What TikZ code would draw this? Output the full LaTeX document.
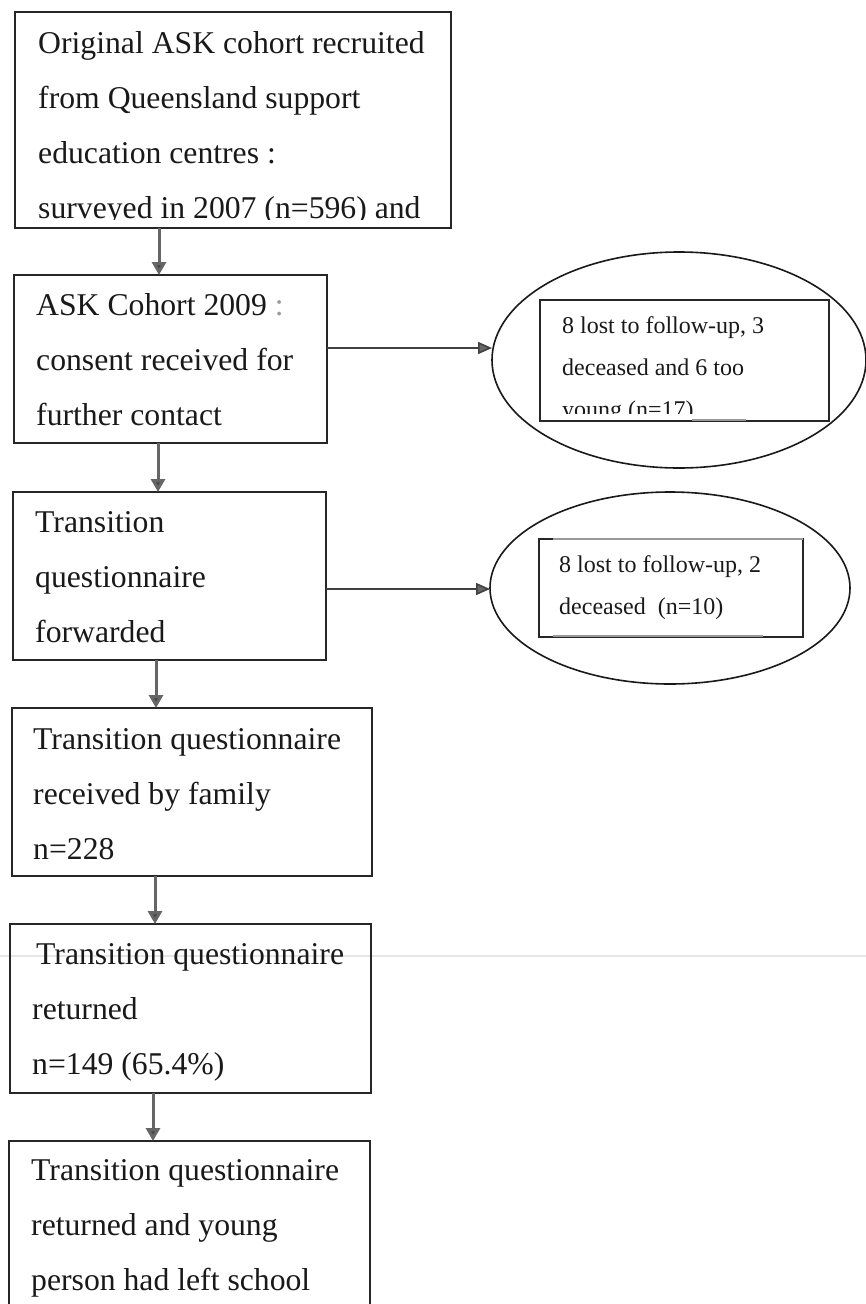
\documentclass[tikz,border=0pt]{standalone}
\usepackage{fontspec}
\setmainfont{Liberation Serif}
\usetikzlibrary{shapes.geometric,arrows.meta,calc}
\newcommand\mlines[1]{\parbox[t]{480pt}{\raggedright #1}}
\begin{document}
\begin{tikzpicture}[x=1pt,y=-1pt,
  box/.style={draw=black!85,line width=2pt,anchor=north west,inner sep=0pt,outer sep=0pt},
  oval/.style={draw=black!90,ellipse,line width=1.6pt,inner sep=0pt,outer sep=0pt},
  inbox/.style={draw=black!85,line width=1.6pt,anchor=north west,inner sep=0pt,outer sep=0pt},
  bigtxt/.style={anchor=base west,inner sep=0pt,font=\fontsize{31.7}{55}\selectfont,text=black!90},
  smalltxt/.style={anchor=base west,inner sep=0pt,font=\fontsize{24}{42}\selectfont,text=black!90},
  down/.style={draw=black!60,line width=3pt,-{Triangle[length=13pt,width=14pt,fill=black!72]}},
  side/.style={draw=black!75,line width=1.5pt,-{Triangle[length=14pt,width=12pt,fill=black!60]}},
  scan/.style={draw=black!40,line width=2.8pt},
]
\useasboundingbox (0,0) rectangle (866,1304);
\clip (0,0) rectangle (866,1304);

% faint scan line
\draw[black!10,line width=2pt] (0,956) -- (866,956);

% main boxes
\node[box,minimum width=436pt,minimum height=216pt] (b1) at (15,12) {};
\node[box,minimum width=313pt,minimum height=168pt] (b2) at (14,275) {};
\node[box,minimum width=313pt,minimum height=168pt] (b3) at (13,492) {};
\node[box,minimum width=360pt,minimum height=168pt] (b4) at (12,708) {};
\node[box,minimum width=361pt,minimum height=169pt] (b5) at (10,924) {};
\node[box,minimum width=361pt,minimum height=190pt] (b6) at (9,1141) {};

% texts of main boxes
\begin{scope}
  \clip (0,0) rectangle (866,219);
  \node[bigtxt] (t1) at (38,53) {\mlines{Original ASK cohort recruited\\from Queensland support\\education centres :\\surveyed in 2007 (n=596) and}};
\end{scope}
\node[bigtxt] (t2) at (36,315) {\mlines{ASK Cohort 2009 {\color{black!40}:}\\consent received for\\further contact}};
\node[bigtxt] (t3) at (35,532) {\mlines{Transition\\questionnaire\\forwarded}};
\node[bigtxt] (t4) at (33,749) {\mlines{Transition questionnaire\\received by family\\n=228}};
\node[bigtxt] (t5) at (32,964) {\mlines{\hspace{4pt}Transition questionnaire\\returned\\n=149 (65.4\%)}};
\node[bigtxt] (t6) at (31,1180) {\mlines{Transition questionnaire\\returned and young\\person had left school}};

% ellipses with inner boxes
\node[oval,minimum width=374pt,minimum height=216pt] (e1) at (679,360) {};
\node[inbox,minimum width=289pt,minimum height=121pt] (r1) at (540,300) {};
\begin{scope}
  \clip (540,300) rectangle (829,413);
  \node[smalltxt] (s1) at (562,333) {\mlines{8 lost to follow-up, 3\\deceased and 6 too\\young (n=17)}};
\end{scope}
\draw[scan] (692,420) -- (746,420);

\node[oval,minimum width=360pt,minimum height=192pt] (e2) at (670,588) {};
\node[inbox,minimum width=264pt,minimum height=98pt] (r2) at (539,539) {};
\node[smalltxt] (s2) at (559,572) {\mlines{8 lost to follow-up, 2\\deceased~~(n=10)}};
\draw[scan] (553,539) -- (803,539);
\draw[scan] (553,636) -- (763,636);

% vertical arrows
\coordinate (a1) at (159,0);
\coordinate (a2) at (158,0);
\coordinate (a3) at (156,0);
\coordinate (a4) at (155,0);
\coordinate (a5) at (153,0);
\draw[down] (b1.south -| a1) -- (b2.north -| a1);
\draw[down] (b2.south -| a2) -- (b3.north -| a2);
\draw[down] (b3.south -| a3) -- (b4.north -| a3);
\draw[down] (b4.south -| a4) -- (b5.north -| a4);
\draw[down] (b5.south -| a5) -- (b6.north -| a5);

% side arrows
\coordinate (h1) at (0,348);
\coordinate (h2) at (0,589);
\draw[side] (b2.east |- h1) -- (e1.west |- h1);
\draw[side] (b3.east |- h2) -- (e2.west |- h2);
\end{tikzpicture}
\end{document}
